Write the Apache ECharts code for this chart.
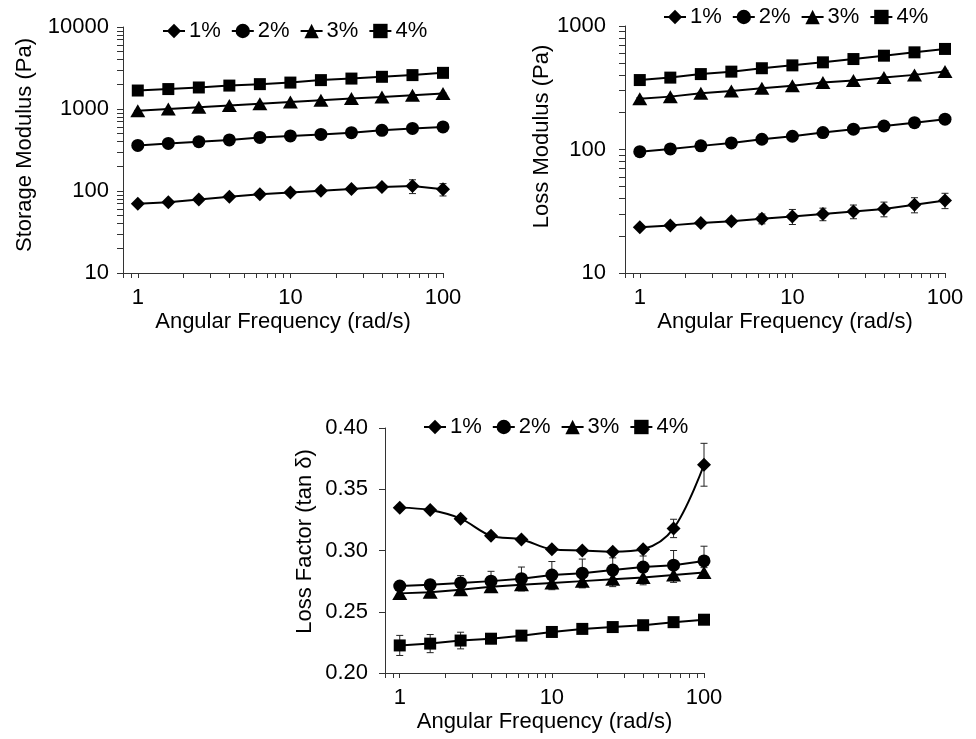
<!DOCTYPE html>
<html>
<head>
<meta charset="utf-8">
<script src="https://cdn.jsdelivr.net/npm/echarts@6/dist/echarts.min.js"></script>
<style>
  html, body { margin: 0; padding: 0; background: #fff; }
  #chart { width: 976px; height: 739px; }
</style>
</head>
<body>
<div id="chart"></div>
<script>
// angular frequency (rad/s), 5 points per decade
const freq = [1, 1.585, 2.512, 3.981, 6.31, 10, 15.85, 25.12, 39.81, 63.1, 100]
const names = ['1%', '2%', '3%', '4%']

// storage modulus G' (Pa)
const storage1 = [70, 73, 79, 85, 91, 96, 101, 106, 112, 115, 105]
const storage2 = [360, 380, 400, 420, 450, 470, 490, 515, 550, 580, 605]
const storage3 = [950, 1000, 1050, 1100, 1160, 1220, 1280, 1340, 1400, 1470, 1540]
const storage4 = [1680, 1750, 1830, 1930, 2010, 2100, 2250, 2350, 2470, 2590, 2760]
const storageErr1 = [2, 2, 3, 3, 4, 4, 5, 6, 8, 22, 18]
const storageErr2 = [5, 5, 6, 6, 7, 8, 8, 9, 10, 12, 14]
const storageErr3 = [10, 12, 12, 14, 15, 16, 18, 20, 22, 25, 28]
const storageErr4 = [20, 22, 24, 26, 28, 30, 32, 34, 36, 40, 44]

// loss modulus G'' (Pa)
const loss1 = [23.5, 24.3, 25.4, 26.2, 27.5, 28.7, 30, 31.5, 33, 35.7, 38.7]
const loss2 = [96, 101, 107, 113, 121, 128, 137, 146, 155, 165, 176]
const loss3 = [258, 268, 285, 298, 313, 328, 348, 362, 382, 402, 428]
const loss4 = [365, 382, 408, 427, 455, 480, 508, 540, 575, 612, 652]
const lossErr1 = [0.8, 1, 1, 1.5, 2.5, 4, 3.5, 4, 4.5, 5, 5.5]
const lossErr2 = [2, 2, 2, 3, 3, 3, 4, 4, 5, 5, 6]
const lossErr3 = [4, 4, 5, 5, 6, 6, 7, 7, 8, 8, 9]
const lossErr4 = [5, 5, 6, 6, 7, 7, 8, 8, 9, 9, 10]

// loss factor tan delta
const tan1 = [0.335, 0.333, 0.326, 0.312, 0.309, 0.301, 0.300, 0.299, 0.301, 0.318, 0.370]
const tan2 = [0.271, 0.272, 0.2735, 0.275, 0.277, 0.280, 0.2815, 0.284, 0.2865, 0.288, 0.2915]
const tan3 = [0.265, 0.266, 0.268, 0.2705, 0.272, 0.2735, 0.275, 0.2765, 0.278, 0.280, 0.282]
const tan4 = [0.2225, 0.224, 0.2265, 0.228, 0.2305, 0.2335, 0.236, 0.2375, 0.239, 0.2415, 0.2435]
const tanErr1 = [0.002, 0.002, 0.002, 0.002, 0.002, 0.002, 0.002, 0.002, 0.002, 0.0075, 0.0175]
const tanErr2 = [0.003, 0.004, 0.006, 0.008, 0.0095, 0.011, 0.0115, 0.010, 0.009, 0.012, 0.012]
const tanErr3 = [0.003, 0.003, 0.004, 0.004, 0.005, 0.0055, 0.0055, 0.006, 0.006, 0.006, 0.004]
const tanErr4 = [0.0082, 0.0074, 0.0068, 0.004, 0.003, 0.002, 0.002, 0.002, 0.002, 0.002, 0.002]

// axis ticks / labels
const freqTicks = [0.8, 0.9, 1, 2, 3, 4, 5, 6, 7, 8, 9, 10, 20, 30, 40, 50, 60, 70, 80, 90, 100]
const freqLabels = [1, 10, 100]
const storageTicks = [10, 20, 30, 40, 50, 60, 70, 80, 90, 100, 200, 300, 400, 500, 600, 700, 800, 900,
  1000, 2000, 3000, 4000, 5000, 6000, 7000, 8000, 9000, 10000]
const storageLabels = [10, 100, 1000, 10000]
const lossTicks = [10, 20, 30, 40, 50, 60, 70, 80, 90, 100, 200, 300, 400, 500, 600, 700, 800, 900, 1000]
const lossLabels = [10, 100, 1000]

const font = 'Liberation Sans, Arial, Helvetica, sans-serif'
const axisColor = '#333'
const symbols = ['diamond', 'circle', 'triangle', 'rect']
const symbolSizes = [14, 13, [15, 13], 12]

const chart = echarts.init(document.getElementById('chart'))

function fmtLog(v) {
  return String(Math.round(v))
}

function xAxisFor(gridIndex) {
  return {
    type: 'log',
    gridIndex: gridIndex,
    min: 0.8,
    max: 100,
    name: 'Angular Frequency (rad/s)',
    nameLocation: 'middle',
    nameGap: 38,
    nameTextStyle: { fontSize: 22, color: '#000', fontFamily: font },
    axisLine: { show: true, lineStyle: { color: axisColor, width: 1 } },
    axisTick: { show: true, length: 5, customValues: freqTicks, lineStyle: { color: axisColor } },
    axisLabel: { customValues: freqLabels, fontSize: 22, color: '#000', fontFamily: font, margin: 14, formatter: fmtLog },
    splitLine: { show: false },
    minorTick: { show: false }
  }
}

// shift moves the rotated name up along the axis
function yName(shift) {
  return { fontSize: 22, color: '#000', fontFamily: font, padding: [0, 0, 0, shift * 2] }
}

function logYAxis(gridIndex, name, min, max, ticks, labels, gap, margin, shift) {
  return {
    type: 'log',
    gridIndex: gridIndex,
    min: min,
    max: max,
    name: name,
    nameLocation: 'middle',
    nameGap: gap,
    nameTextStyle: yName(shift),
    axisLine: { show: true, lineStyle: { color: axisColor, width: 1 } },
    axisTick: { show: true, length: 6, customValues: ticks, lineStyle: { color: axisColor } },
    axisLabel: { customValues: labels, fontSize: 22, color: '#000', fontFamily: font, margin: margin, formatter: fmtLog },
    splitLine: { show: false }
  }
}

function legendFor(left, top) {
  return {
    left: left,
    top: top,
    padding: 0,
    itemGap: 10,
    itemWidth: 22,
    itemHeight: 18,
    lineStyle: { width: 2 },
    data: names,
    textStyle: { fontSize: 22, color: '#000', fontFamily: font, padding: [0, 0, 0, -1] }
  }
}

function toPairs(ys) {
  return freq.map((x, i) => [x, ys[i]])
}

function lineSeries(k, axisIndex, ys, smooth) {
  return {
    name: names[k],
    type: 'line',
    xAxisIndex: axisIndex,
    yAxisIndex: axisIndex,
    data: toPairs(ys),
    symbol: symbols[k],
    symbolSize: symbolSizes[k],
    smooth: smooth || false,
    lineStyle: { color: '#000', width: 2 },
    itemStyle: { color: '#000' },
    z: 3,
    animation: false
  }
}

function errorRender(params, api) {
  const x = api.value(0)
  const y = api.value(1)
  const e = api.value(2)
  const top = api.coord([x, y + e])
  const bot = api.coord([x, y - e])
  const half = 3.5
  const style = { stroke: '#222', lineWidth: 1 }
  return {
    type: 'group',
    children: [
      { type: 'line', shape: { x1: top[0], y1: top[1], x2: bot[0], y2: bot[1] }, style: style },
      { type: 'line', shape: { x1: top[0] - half, y1: top[1], x2: top[0] + half, y2: top[1] }, style: style },
      { type: 'line', shape: { x1: bot[0] - half, y1: bot[1], x2: bot[0] + half, y2: bot[1] }, style: style }
    ]
  }
}

function errorSeries(axisIndex, ys, errs) {
  return {
    type: 'custom',
    name: 'err',
    xAxisIndex: axisIndex,
    yAxisIndex: axisIndex,
    renderItem: errorRender,
    data: freq.map((x, i) => [x, ys[i], errs[i]]),
    encode: { x: 0, y: 1 },
    z: 1,
    silent: true,
    animation: false
  }
}

const option = {
  backgroundColor: '#fff',
  animation: false,
  textStyle: { fontFamily: font },
  grid: [
    { left: 123, top: 27, width: 320, height: 246 },
    { left: 625, top: 26, width: 320, height: 247 },
    { left: 385, top: 428, width: 319, height: 245 }
  ],
  legend: [legendFor(162, 20), legendFor(663, 6), legendFor(423, 416)],
  xAxis: [xAxisFor(0), xAxisFor(1), xAxisFor(2)],
  yAxis: [
    logYAxis(0, 'Storage Modulus (Pa)', 10, 10000, storageTicks, storageLabels, 87, 14, 5),
    logYAxis(1, 'Loss Modulus (Pa)', 10, 1000, lossTicks, lossLabels, 71, 19, 13),
    {
      type: 'value',
      gridIndex: 2,
      min: 0.2,
      max: 0.4,
      interval: 0.05,
      name: 'Loss Factor (tan δ)',
      nameLocation: 'middle',
      nameGap: 69,
      nameTextStyle: yName(9),
      axisLine: { show: true, lineStyle: { color: axisColor, width: 1 } },
      axisTick: { show: true, length: 6, lineStyle: { color: axisColor } },
      axisLabel: { fontSize: 22, color: '#000', fontFamily: font, margin: 17, formatter: v => v.toFixed(2) },
      splitLine: { show: false }
    }
  ],
  series: [
    errorSeries(0, storage1, storageErr1),
    errorSeries(0, storage2, storageErr2),
    errorSeries(0, storage3, storageErr3),
    errorSeries(0, storage4, storageErr4),
    lineSeries(0, 0, storage1),
    lineSeries(1, 0, storage2),
    lineSeries(2, 0, storage3),
    lineSeries(3, 0, storage4),

    errorSeries(1, loss1, lossErr1),
    errorSeries(1, loss2, lossErr2),
    errorSeries(1, loss3, lossErr3),
    errorSeries(1, loss4, lossErr4),
    lineSeries(0, 1, loss1),
    lineSeries(1, 1, loss2),
    lineSeries(2, 1, loss3),
    lineSeries(3, 1, loss4),

    errorSeries(2, tan1, tanErr1),
    errorSeries(2, tan2, tanErr2),
    errorSeries(2, tan3, tanErr3),
    errorSeries(2, tan4, tanErr4),
    lineSeries(0, 2, tan1, 0.35),
    lineSeries(1, 2, tan2),
    lineSeries(2, 2, tan3),
    lineSeries(3, 2, tan4)
  ]
}

chart.setOption(option)
</script>
</body>
</html>
